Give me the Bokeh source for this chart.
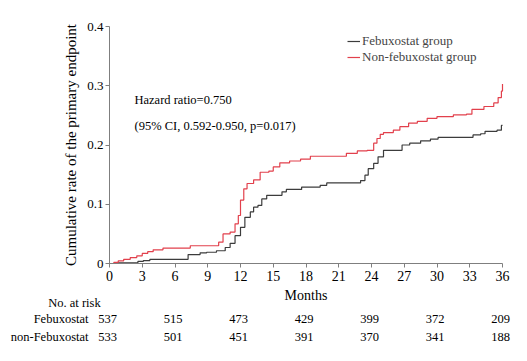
from bokeh.plotting import figure
from bokeh.models import FixedTicker, Legend, LegendItem, Range1d, LinearAxis
from bokeh.core.properties import value
from bokeh.embed import file_html
from bokeh.resources import INLINE

# ---------------- data ----------------
feb_t = [0, 0.6, 2.6, 3.1, 3.7, 7.2, 8.3, 8.9, 9.8, 10.6, 11.05, 11.5, 12.0, 12.4, 12.9, 13.2,
         13.6, 13.95, 14.4, 15.8, 16.2, 17.6, 19.3, 19.9, 23.0, 23.4, 23.7, 24.2, 24.6, 25.1,
         26.8, 27.5, 28.5, 29.4, 30.1, 33.3, 34.0, 34.4, 35.5, 35.9, 36.0]
feb_v = [0, 0.001, 0.0035, 0.005, 0.007, 0.015, 0.018, 0.019, 0.0215, 0.027, 0.034, 0.047, 0.061,
         0.078, 0.087, 0.095, 0.098, 0.109, 0.115, 0.121, 0.125, 0.129, 0.132, 0.136, 0.140,
         0.149, 0.160, 0.169, 0.180, 0.191, 0.200, 0.203, 0.207, 0.210, 0.213, 0.217, 0.219,
         0.223, 0.225, 0.233, 0.233]

red_t = [0, 0.4, 0.8, 1.3, 1.9, 2.5, 3.0, 3.5, 4.0, 4.9, 7.4, 10.0, 10.4, 11.05, 11.5, 11.8,
         12.0, 12.3, 12.6, 13.2, 13.8, 14.6, 15.0, 15.6, 16.5, 17.5, 18.4, 21.7, 22.7, 23.6,
         24.2, 24.5, 24.8, 25.1, 26.0, 26.6, 27.4, 28.2, 29.1, 30.0, 31.5, 32.7, 33.2, 34.3,
         35.2, 35.6, 35.9, 36.0]
red_v = [0, 0.002, 0.0045, 0.007, 0.010, 0.013, 0.017, 0.020, 0.023, 0.026, 0.030, 0.036,
         0.050, 0.053, 0.067, 0.081, 0.107, 0.126, 0.135, 0.141, 0.154, 0.156, 0.163, 0.170,
         0.173, 0.176, 0.181, 0.186, 0.190, 0.191, 0.203, 0.211, 0.218, 0.221, 0.225, 0.231,
         0.237, 0.240, 0.245, 0.248, 0.251, 0.252, 0.260, 0.265, 0.271, 0.280, 0.291, 0.303]

x_ticks = [0, 3, 6, 9, 12, 15, 18, 21, 24, 27, 30, 33, 36]
y_ticks = [0, 0.1, 0.2, 0.3, 0.4]
y_tick_labels = ["0", "0.1", "0.2", "0.3", "0.4"]

risk_months = [0, 6, 12, 18, 24, 30, 36]
risk_feb = [537, 515, 473, 429, 399, 372, 209]
risk_non = [533, 501, 451, 391, 370, 341, 188]
risk_groups = ["Febuxostat", "non-Febuxostat"]

legend_labels = ["Febuxostat group", "Non-febuxostat group"]
hr_lines = ["Hazard ratio=0.750", "(95% CI, 0.592-0.950, p=0.017)"]

# ---------------- layout / styling ----------------
FONT = "Liberation Serif"
BLACK = "#3c3c3c"
RED = "#e2404c"
AXIS = "#7f7f7f"

W, H = 511, 345            # canvas size
X0, Y0 = 109, 263          # canvas pixel of the origin (0 months, 0 rate)
PXM = 393 / 36.0           # pixels per month
PXV = 237 / 0.4            # pixels per unit of rate


def dx(px):
    return (px - X0) / PXM


def dy(py):
    return (Y0 - py) / PXV


p = figure(width=W, height=H, min_border=0,
           x_range=Range1d(dx(0), dx(W)), y_range=Range1d(dy(H), dy(0)),
           x_axis_type=None, y_axis_type=None,
           output_backend="svg", toolbar_location=None)
p.outline_line_color = None
p.background_fill_color = "white"
p.border_fill_color = "white"
p.xgrid.visible = False
p.ygrid.visible = False

r_feb = p.step(feb_t, feb_v, mode="after", line_color=BLACK, line_width=1.2)
r_red = p.step(red_t, red_v, mode="after", line_color=RED, line_width=1.2)

# axes drawn at the origin, inside the canvas
xaxis = LinearAxis(fixed_location=0, bounds=(x_ticks[0], x_ticks[-1]),
                   ticker=FixedTicker(ticks=x_ticks), axis_label="Months")
yaxis = LinearAxis(fixed_location=0, bounds=(y_ticks[0], y_ticks[-1]),
                   ticker=FixedTicker(ticks=y_ticks),
                   axis_label="Cumulative rate of the primary endpoint")
yaxis.major_label_overrides = {t: l for t, l in zip(y_ticks, y_tick_labels)}
for ax in (xaxis, yaxis):
    ax.axis_line_color = AXIS
    ax.major_tick_line_color = AXIS
    ax.minor_tick_line_color = None
    ax.major_tick_out = 4
    ax.major_tick_in = 0
    ax.major_label_text_font = FONT
    ax.major_label_text_color = "black"
    ax.axis_label_text_font = FONT
    ax.axis_label_text_font_style = "normal"
    ax.axis_label_text_color = "black"
xaxis.major_label_text_font_size = "14px"
yaxis.major_label_text_font_size = "13px"
xaxis.major_label_standoff = 3
yaxis.major_label_standoff = 2
xaxis.axis_label_text_font_size = "14px"
xaxis.axis_label_standoff = 4
yaxis.axis_label_text_font_size = "15px"
yaxis.axis_label_standoff = 5
p.add_layout(xaxis, "below")
p.add_layout(yaxis, "left")

# legend
legend = Legend(items=[LegendItem(label=legend_labels[0], renderers=[r_feb]),
                       LegendItem(label=legend_labels[1], renderers=[r_red])],
                location=(347, H - 65), orientation="vertical",
                glyph_width=13, glyph_height=16, label_height=16, label_standoff=2,
                spacing=0, padding=0, margin=0,
                label_text_font=FONT, label_text_font_size="13px",
                border_line_color=None, background_fill_alpha=0)
p.add_layout(legend)

# hazard ratio text
p.text(x=[dx(134)] * 2, y=[dy(99), dy(125)], text=hr_lines,
       text_font=value(FONT), text_font_size="12.5px", text_baseline="middle",
       text_align="left", text_color="black")

# number at risk table
FS = "12.5px"
p.text(x=[dx(74)], y=[dy(302)], text=["No. at risk"], text_font=value(FONT),
       text_font_size=FS, text_baseline="middle", text_align="center", text_color="black")
row_y = [dy(318), dy(336)]
p.text(x=[dx(88)] * 2, y=row_y, text=risk_groups, text_font=value(FONT),
       text_font_size=FS, text_baseline="middle", text_align="right", text_color="black")
for yy, counts in zip(row_y, [risk_feb, risk_non]):
    p.text(x=[m - 2 / PXM for m in risk_months], y=[yy] * len(counts),
           text=[str(c) for c in counts], text_font=value(FONT), text_font_size=FS,
           text_baseline="middle", text_align="center", text_color="black")

open("out.html", "w").write(file_html(p, INLINE))
